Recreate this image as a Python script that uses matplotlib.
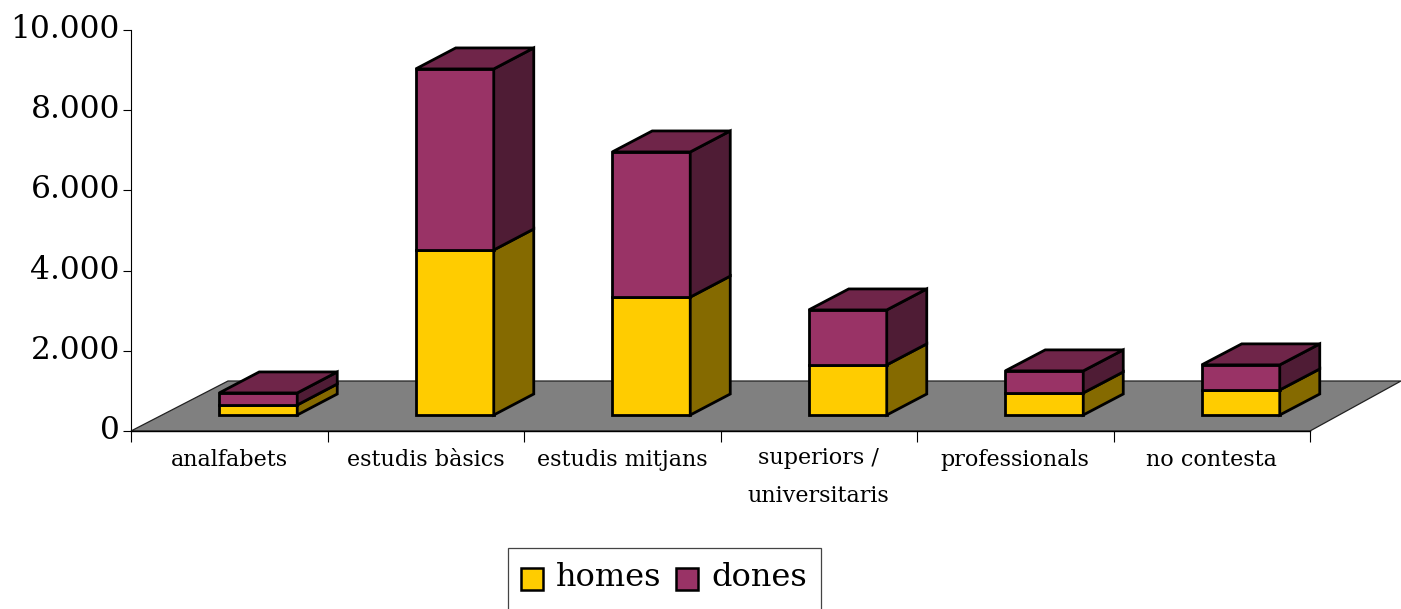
import matplotlib
matplotlib.use('Agg')
import matplotlib.pyplot as plt
from matplotlib.patches import Polygon, Patch, Rectangle
from matplotlib.transforms import ScaledTranslation

categories = ['analfabets', 'estudis bàsics', 'estudis mitjans',
              'superiors /\nuniversitaris', 'professionals', 'no contesta']
homes = [250, 4115, 2940, 1250, 550, 625]
dones = [300, 4515, 3620, 1370, 550, 625]
yticks = [0, 2000, 4000, 6000, 8000, 10000]
yticklabels = ['0', '2.000', '4.000', '6.000', '8.000', '10.000']

col_homes = '#ffcc00'
col_dones = '#993366'
side_homes = '#856a00'
side_dones = '#4f1c35'
top_dones = '#6f2549'

W, H = 1401, 609
fig = plt.figure(figsize=(W / 100, H / 100), dpi=100)
# axes box in pixels: x 131..1310, y 431..30
ax = fig.add_axes([131 / W, (H - 431) / H, 1179 / W, 401 / H])
ax.set_xlim(0, 6)
ax.set_ylim(0, 10000)

sx = 6 / 1179      # data units per pixel
sy = 10000 / 401

# floor
floor_dx, floor_dy = 91 * sx, 50 * sy
ax.add_patch(Polygon([(0, 0), (6, 0), (6 + floor_dx, floor_dy), (0 + 97 * sx, floor_dy)],
                     closed=True, fc='#808080', ec='#222222', lw=0.9, clip_on=False, zorder=1))

# bars sit a little behind the front edge of the floor
base = 16 * sy
shift = 29 * sx
width = 78 * sx
ddx, ddy = 40 * sx, 21 * sy
edge = 2.0

for i in range(len(categories)):
    x0 = i + 0.5 + shift - width / 2
    x1 = x0 + width
    b = base
    for val, front, side in [(homes[i], col_homes, side_homes), (dones[i], col_dones, side_dones)]:
        ax.bar(x0, val, width=width, bottom=b, align='edge', color=front,
               edgecolor='black', lw=edge, zorder=3, clip_on=False)
        ax.add_patch(Polygon([(x1, b), (x1 + ddx, b + ddy), (x1 + ddx, b + val + ddy), (x1, b + val)],
                             closed=True, fc=side, ec='black', lw=edge, zorder=3, clip_on=False))
        b += val
    ax.add_patch(Polygon([(x0, b), (x1, b), (x1 + ddx, b + ddy), (x0 + ddx, b + ddy)],
                         closed=True, fc=top_dones, ec='black', lw=edge, zorder=3, clip_on=False))

for s in ['top', 'right', 'bottom']:
    ax.spines[s].set_visible(False)
ax.spines['left'].set_linewidth(0.8)
ax.patch.set_visible(False)

ax.set_yticks(yticks)
ax.set_yticklabels(yticklabels, family='DejaVu Serif', fontsize=22.5)
ax.tick_params(axis='y', length=6, width=0.8, pad=2)
# labels sit a few pixels above their ticks
for t in ax.get_yticklabels():
    t.set_transform(t.get_transform() + ScaledTranslation(0, 0.04, fig.dpi_scale_trans))

# category ticks at the boundaries, labels centred between them
ax.set_xticks(range(7))
ax.set_xticklabels([''] * 7)
ax.set_xticks([i + 0.5 for i in range(6)], minor=True)
ax.set_xticklabels(categories, minor=True, family='DejaVu Serif', fontsize=16,
                   linespacing=1.95, va='baseline')
ax.tick_params(axis='x', which='major', length=8, width=0.8)
ax.tick_params(axis='x', which='minor', length=0, pad=25)
# baseline means last line here, so push the two-line label down
for t in ax.get_xticklabels(minor=True):
    if '\n' in t.get_text():
        t.set_transform(t.get_transform() + ScaledTranslation(0, -0.36, fig.dpi_scale_trans))
ax.plot([0, 6], [0, 0], color='black', lw=1, clip_on=False, zorder=2)

# legend box runs off the bottom of the picture
fig.add_artist(Rectangle((508 / W, -5 / H), 313 / W, (H - 548 + 5) / H, transform=fig.transFigure,
                         fc='white', ec='#444444', lw=0.9))
leg = fig.legend(handles=[Patch(fc=col_homes, ec='black', lw=1.8, label='homes'),
                          Patch(fc=col_dones, ec='black', lw=1.8, label='dones')],
                 loc='center', bbox_to_anchor=(664 / W, (H - 577) / H), ncol=2,
                 prop={'family': 'DejaVu Serif', 'size': 23}, frameon=False,
                 handlelength=0.68, handleheight=0.68,
                 handletextpad=0.42, columnspacing=0.45, borderpad=0)
for p in leg.get_patches():
    p.set_y(p.get_y() - 3.6)

fig.savefig('out.png', dpi=100)
